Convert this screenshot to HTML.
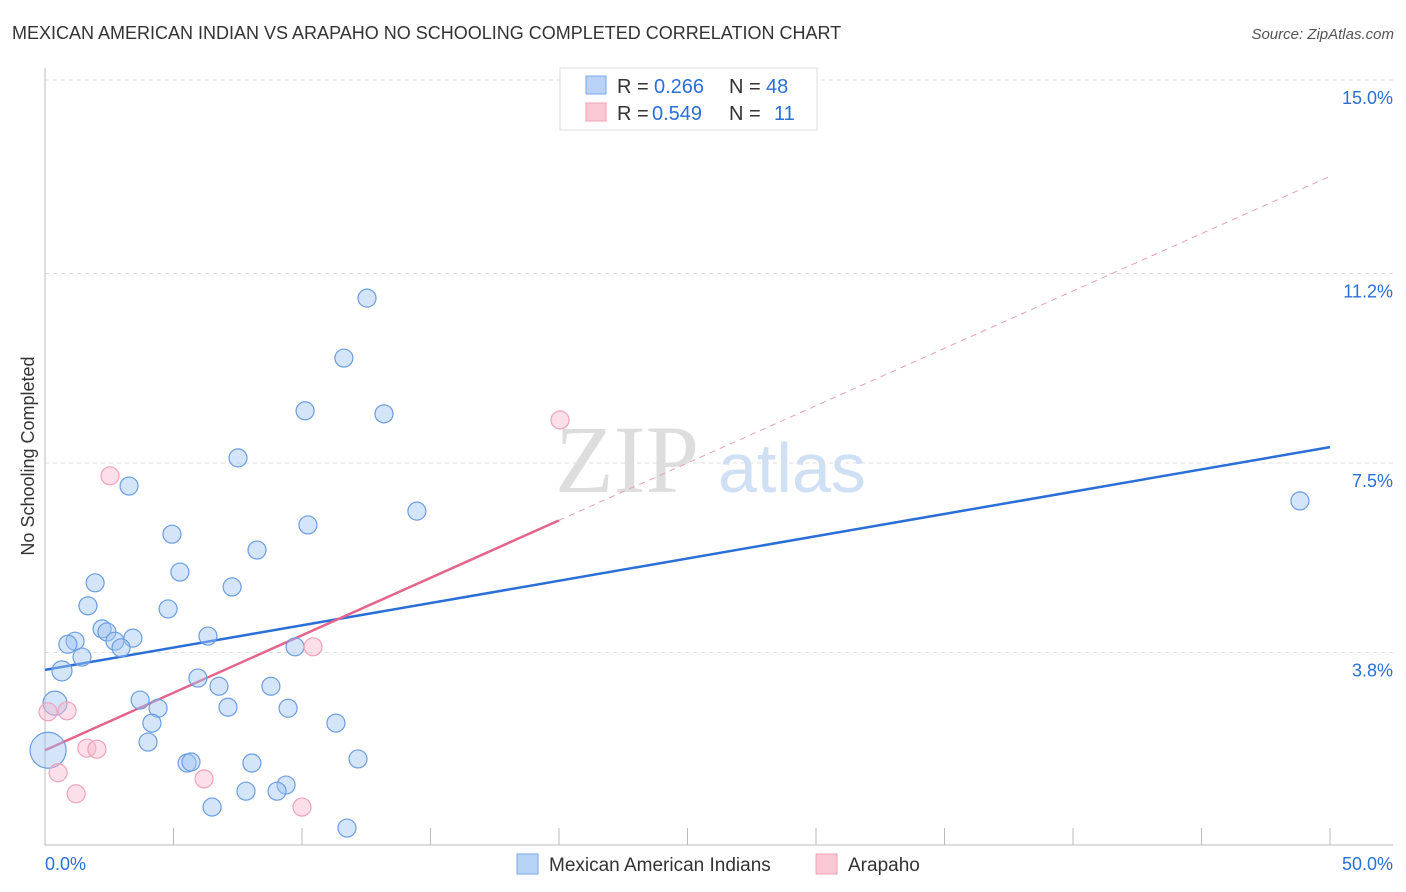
<!DOCTYPE html>
<html><head><meta charset="utf-8"><style>
body{margin:0;background:#fff;font-family:"Liberation Sans",sans-serif;}
</style></head><body>
<svg width="1406" height="892" style="display:block">
<text x="12" y="39" font-size="18" fill="#333">MEXICAN AMERICAN INDIAN VS ARAPAHO NO SCHOOLING COMPLETED CORRELATION CHART</text>
<text x="1394" y="39" font-size="15" fill="#555" font-style="italic" text-anchor="end">Source: ZipAtlas.com</text>
<text x="34" y="456" font-size="18" fill="#333" text-anchor="middle" transform="rotate(-90 34 456)">No Schooling Completed</text>
<text x="555" y="492" font-size="96" fill="#ddd" font-family="Liberation Serif,serif">ZIP</text>
<text x="718" y="492" font-size="70" fill="#cfe0f5">atlas</text>
<g id="grid"></g><g id="axes"></g><g id="lines"></g><g id="pts"></g>
<g>
<rect x="560" y="68" width="257" height="62" fill="#fff" stroke="#ddd"/>
<rect x="586" y="76" width="20" height="18" fill="#b8d3f5" stroke="#7aa6e6"/>
<rect x="586" y="103" width="20" height="18" fill="#fbc9d6" stroke="#f0a0b8"/>
<text x="617" y="93" font-size="20" fill="#333">R =</text>
<text x="654" y="93" font-size="20" fill="#2a6fd6">0.266</text>
<text x="729" y="93" font-size="20" fill="#333">N =</text>
<text x="766" y="93" font-size="20" fill="#2a6fd6">48</text>
<text x="617" y="120" font-size="20" fill="#333">R =</text>
<text x="652" y="120" font-size="20" fill="#2a6fd6">0.549</text>
<text x="729" y="120" font-size="20" fill="#333">N =</text>
<text x="774" y="120" font-size="20" fill="#2a6fd6">11</text>
</g>
<g>
<rect x="517" y="854" width="21" height="20" fill="#b8d3f5" stroke="#7aa6e6"/>
<text x="549" y="871" font-size="19" fill="#333">Mexican American Indians</text>
<rect x="816" y="854" width="21" height="20" fill="#fbc9d6" stroke="#f0a0b8"/>
<text x="848" y="871" font-size="19" fill="#333">Arapaho</text>
</g>
<text x="45" y="870" font-size="18" fill="#2a6fd6">0.0%</text>
<text x="1393" y="870" font-size="18" fill="#2a6fd6" text-anchor="end">50.0%</text>
</svg>
<script>
const yTicks=[3.8,7.5,11.2,15.0];
const yTickLabels=["3.8%","7.5%","11.2%","15.0%"];
const blueX=[12.53,11.63,10.12,13.19,7.51,3.27,14.47,10.23,4.94,8.25,5.25,1.95,7.28,1.67,4.79,2.22,2.41,1.17,0.89,3.42,2.72,2.96,6.34,9.73,1.44,0.66,0.39,3.70,5.95,6.77,4.40,8.79,7.12,9.46,4.16,11.32,4.01,12.18,5.53,5.68,8.05,7.82,9.38,9.03,6.50,11.75,48.83,0.12];
const blueY=[10.72,9.55,8.52,8.46,7.60,7.05,6.56,6.29,6.11,5.80,5.37,5.16,5.08,4.71,4.65,4.26,4.20,4.02,3.96,4.08,4.02,3.89,4.12,3.91,3.71,3.44,2.81,2.87,3.30,3.14,2.71,3.14,2.73,2.71,2.42,2.42,2.05,1.72,1.64,1.66,1.64,1.09,1.21,1.09,0.78,0.37,6.76,1.89];
const blueR=[9,9,9,9,9,9,9,9,9,9,9,9,9,9,9,9,9,9,9,9,9,9,9,9,9,10,12,9,9,9,9,9,9,9,9,9,9,9,9,9,9,9,9,9,9,9,9,18];
const pinkX=[20.04,2.53,10.43,0.12,0.86,1.63,2.02,0.51,1.21,6.19,10.0];
const pinkY=[8.34,7.25,3.91,2.64,2.66,1.93,1.91,1.45,1.04,1.33,0.78];
const blueTrend=[3.46,7.81];
const pinkTrend=[1.89,6.38,13.1];
const NS="http://www.w3.org/2000/svg";
const sx=v=>45+v/50*1285, sy=v=>847-v/3.75*192;
function mk(t,a,p){const e=document.createElementNS(NS,t);for(const k in a)e.setAttribute(k,a[k]);document.getElementById(p).appendChild(e);return e;}
yTicks.forEach((t,i)=>{
 const y=i==3?80:sy(t);
 const g=mk('line',{x1:45,x2:1393,y1:y,y2:y,stroke:'#ddd','stroke-dasharray':'4,4'},'grid');
 
 
 const l=mk('text',{x:1393,y:y+24,'font-size':18,fill:'#2a6fd6','text-anchor':'end'},'grid');
 l.textContent=yTickLabels[i];
 
 
});
let a=mk('line',{x1:45,x2:45,y1:68,y2:845,stroke:'#bbb'},'axes');


a=mk('line',{x1:45,x2:1393,y1:845,y2:845,stroke:'#bbb'},'axes');


for(let k=1;k<=10;k++){const x=45+k*128.5;const t=mk('line',{x1:x,x2:x,y1:828,y2:845,stroke:'#bbb'},'axes');
 
 }
let L=mk('line',{x1:sx(0),y1:sy(blueTrend[0]),x2:sx(50),y2:sy(blueTrend[1]),stroke:'#2a6fd6','stroke-width':2.5},'lines');


L=mk('line',{x1:sx(0),y1:sy(pinkTrend[0]),x2:sx(20),y2:sy(pinkTrend[1]),stroke:'#e4648c','stroke-width':2.5},'lines');


L=mk('line',{x1:sx(20),y1:sy(pinkTrend[1]),x2:sx(50),y2:sy(pinkTrend[2]),stroke:'#e8a0b4','stroke-width':1,'stroke-dasharray':'6,5'},'lines');


blueX.forEach((v,i)=>{const c=mk('circle',{cx:sx(v),cy:sy(blueY[i]),r:blueR[i],fill:'rgba(160,196,242,0.45)',stroke:'#6b9de2','stroke-width':1.2},'pts');
 
 });
pinkX.forEach((v,i)=>{const c=mk('circle',{cx:sx(v),cy:sy(pinkY[i]),r:9,fill:'rgba(249,185,203,0.45)',stroke:'#efa3ba','stroke-width':1.2},'pts');
 
 });
</script>
</body></html>
